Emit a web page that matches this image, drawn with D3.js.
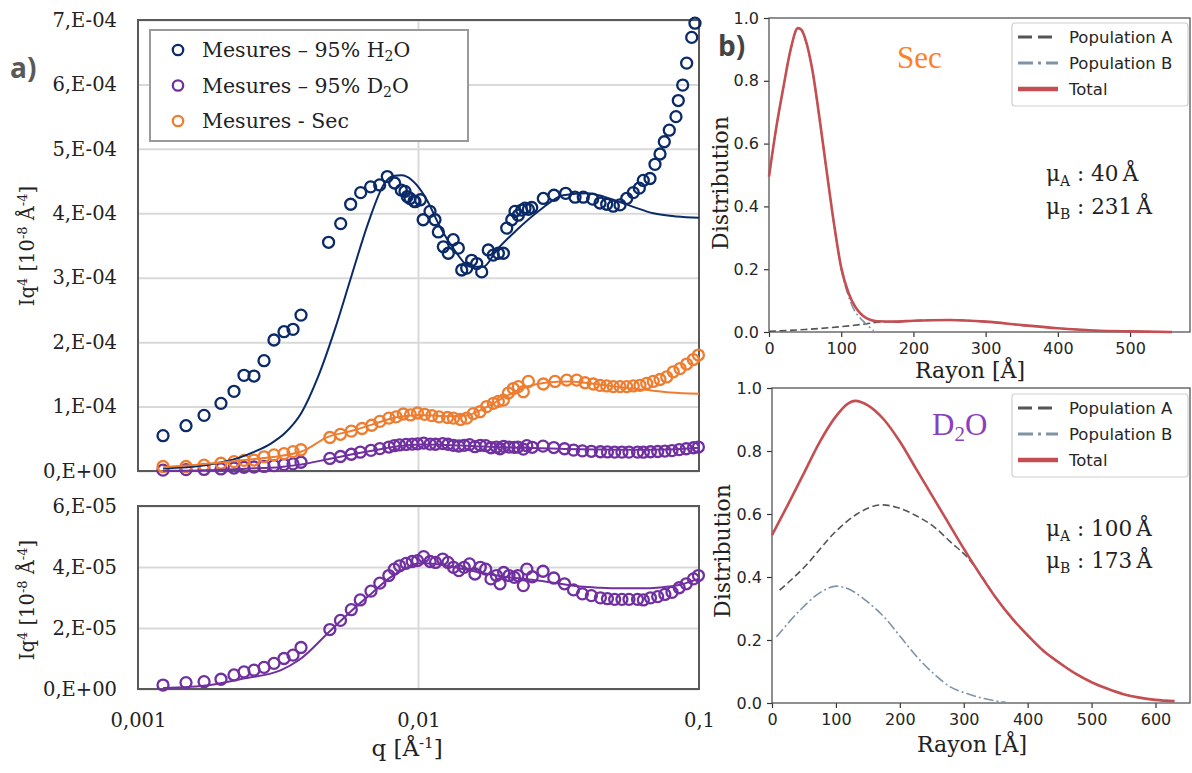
<!DOCTYPE html>
<html><head><meta charset="utf-8">
<script src="https://cdn.jsdelivr.net/npm/d3@7"></script>
<style>body{margin:0;background:#fff}svg{display:block}</style>
</head><body>
<svg id="c" width="1192" height="773"></svg>
<script>
// ---------------- Panel a data (q in Å^-1) ----------------
// H2O measurements (Iq4 in units of 1e-4)
const qH2O = [0.001228,0.001483,0.001720,0.001976,0.002199,0.002387,0.002591,0.002814,0.003053,0.003315,0.003570,0.003812,
 0.00478,0.00528,0.00573,0.00622,0.00675,0.00727,0.00774,0.00822,0.00868,0.00895,0.00912,0.00933,0.00964,0.00972,0.01016,
 0.01039,0.01099,0.01145,0.01177,0.01226,0.01277,0.01330,0.01387,0.01426,0.01485,0.01547,0.01613,0.01680,0.01773,0.01847,
 0.01926,0.02007,0.02063,0.02150,0.02208,0.02269,0.02333,0.02397,0.02464,0.02533,0.02786,0.03041,0.03347,0.03614,0.03868,
 0.04178,0.04437,0.04687,0.04948,0.05229,0.05523,0.05831,0.06126,0.06330,0.06688,0.06967,0.07261,0.07521,0.07836,0.08277,
 0.08437,0.08747,0.09037,0.09418,0.09675];
const iqH2O = [0.548,0.703,0.864,1.05,1.237,1.485,1.474,1.712,2.033,2.162,2.199,2.42,
 3.55,3.84,4.14,4.32,4.41,4.44,4.57,4.47,4.36,4.34,4.26,4.23,4.19,4.18,4.21,
 3.90,4.03,3.90,3.71,3.48,3.38,3.59,3.46,3.12,3.15,3.27,3.22,3.09,3.43,3.35,
 3.38,3.38,3.77,3.90,4.03,3.97,4.05,4.08,4.06,4.09,4.23,4.28,4.31,4.25,4.25,
 4.22,4.16,4.14,4.11,4.13,4.23,4.32,4.39,4.51,4.54,4.76,4.92,5.11,5.29,5.50,
 5.75,5.99,6.33,6.73,6.95];
const qFitH2O = [0.001228,0.001730,0.002273,0.002606,0.002986,0.003334,0.003822,0.004383,0.005027,0.005761,0.006607,0.007576,
 0.008110,0.00868,0.009078,0.009850,0.01070,0.01193,0.01368,0.01526,0.01702,0.01901,0.02240,0.02712,0.03283,0.03977,0.04948,
 0.05831,0.06871,0.08325,0.1];
const fitH2O = [0.04,0.09,0.2,0.3,0.43,0.585,0.9,1.46,2.19,3.02,3.84,4.47,4.58,4.59,4.57,4.44,4.21,3.79,3.38,3.17,3.17,3.43,
 3.74,4.05,4.28,4.31,4.21,4.10,4.0,3.95,3.93];

// Dry ("Sec") measurements (Iq4 in units of 1e-4)
const qSec = [0.001228,0.001483,0.001720,0.001976,0.002199,0.002387,0.002591,0.002814,0.003053,0.003315,0.003570,0.003812,
 0.00483,0.00527,0.00576,0.00629,0.00681,0.00728,0.00784,0.00832,0.00882,0.00936,0.00992,0.01052,0.01116,0.01183,0.01269,
 0.01332,0.01412,0.01485,0.01568,0.01657,0.01750,0.01847,0.01926,0.02007,0.02091,0.02178,0.02269,0.02364,0.02464,0.02786,
 0.03066,0.03376,0.03665,0.03922,0.04199,0.04437,0.04687,0.04948,0.05229,0.05523,0.05831,0.06161,0.06510,0.06871,0.07261,
 0.07671,0.08097,0.08556,0.09037,0.09542,0.0995];
const iqSec = [0.07,0.07,0.09,0.12,0.145,0.165,0.17,0.22,0.25,0.27,0.30,0.33,
 0.52,0.57,0.62,0.66,0.71,0.77,0.82,0.84,0.885,0.87,0.90,0.88,0.86,0.84,0.83,
 0.82,0.80,0.82,0.89,0.92,1.0,1.05,1.08,1.10,1.21,1.28,1.31,1.23,1.39,1.35,
 1.39,1.41,1.41,1.37,1.35,1.33,1.32,1.31,1.31,1.31,1.32,1.33,1.36,1.39,1.42,
 1.46,1.54,1.59,1.66,1.73,1.80];
const qFitSec = [0.001228,0.002273,0.003812,0.00476,0.005747,0.00683,0.00824,0.01012,0.01243,0.01465,0.01726,0.02034,0.02397,
 0.02825,0.03469,0.04257,0.05229,0.06418,0.07881,0.1];
const fitSec = [0.06,0.16,0.30,0.53,0.62,0.72,0.83,0.87,0.85,0.86,0.98,1.15,1.30,1.37,1.39,1.35,1.30,1.26,1.22,1.20];

// D2O measurements (Iq4 in units of 1e-5)
const qD2O = [0.001228,0.001483,0.001720,0.001976,0.002199,0.002387,0.002591,0.002814,0.003053,0.003315,0.003570,0.003812,
 0.00483,0.00527,0.00576,0.00620,0.00677,0.00728,0.00784,0.00820,0.00856,0.00903,0.00950,0.00992,0.01043,0.01100,0.01150,
 0.01220,0.01274,0.01332,0.01392,0.01455,0.01520,0.01589,0.01661,0.01736,0.01813,0.01896,0.01953,0.02012,0.02103,0.02196,
 0.02261,0.02364,0.02433,0.02545,0.02779,0.03036,0.03315,0.03570,0.03840,0.04134,0.04451,0.04716,0.05004,0.05311,0.05629,
 0.06037,0.06334,0.06715,0.07123,0.07557,0.08011,0.08500,0.09007,0.09556,0.0995];
const iqD2O = [0.13,0.21,0.24,0.32,0.46,0.56,0.62,0.71,0.84,1.0,1.11,1.36,
 1.95,2.25,2.60,2.92,3.21,3.47,3.72,3.93,4.04,4.12,4.18,4.21,4.34,4.18,4.15,
 4.26,4.15,3.99,3.88,3.99,4.10,3.77,3.99,3.93,3.61,3.72,3.45,3.82,3.72,3.66,
 3.72,3.39,3.93,3.68,3.86,3.64,3.45,3.25,3.12,3.06,2.99,2.96,2.94,2.94,2.94,
 2.94,2.92,2.99,3.03,3.10,3.17,3.32,3.45,3.61,3.72];
const qFitD2O = [0.001228,0.001806,0.002407,0.003235,0.003750,0.004837,0.005747,0.00683,0.007914,0.00895,0.01012,0.01193,
 0.01406,0.01657,0.01953,0.02301,0.02712,0.03195,0.03765,0.04437,0.05229,0.06161,0.07261,0.08556,0.1];
const fitD2O = [0.03,0.13,0.35,0.62,0.95,1.9,2.55,3.15,3.65,3.95,4.12,4.08,3.95,3.82,3.7,3.62,3.55,3.45,3.36,3.32,3.3,3.3,
 3.33,3.42,3.62];

const qTicks = [0.001,0.01,0.1];
const qTickLabels = ["0,001","0,01","0,1"];
const topTicks = [0,1e-4,2e-4,3e-4,4e-4,5e-4,6e-4,7e-4];
const topTickLabels = ["0,E+00","1,E-04","2,E-04","3,E-04","4,E-04","5,E-04","6,E-04","7,E-04"];
const botTicks = [0,2e-5,4e-5,6e-5];
const botTickLabels = ["0,E+00","2,E-05","4,E-05","6,E-05"];

// ---------------- Panel b data ----------------
const secR = [0,10,20,30,40,45,50,60,70,80,90,100,110,120,130,140,150,175,200,250,300,350,400,450,500,558];
const secTotal = [0.495,0.65,0.78,0.90,0.968,0.962,0.935,0.835,0.68,0.51,0.345,0.205,0.125,0.078,0.052,0.039,0.034,0.033,
 0.036,0.038,0.033,0.022,0.012,0.005,0.002,0.0];
const secRA = [0,50,100,135,155,175,200,250,300,350,400,450,500,558];
const secPopA = [0.002,0.008,0.017,0.026,0.032,0.033,0.036,0.038,0.033,0.022,0.012,0.005,0.002,0.0];
const secRB = [0,10,20,30,40,45,50,60,70,80,90,100,110,117,124,131,138,145];
const secPopB = [0.495,0.65,0.78,0.90,0.966,0.96,0.933,0.833,0.678,0.508,0.343,0.2,0.115,0.074,0.05,0.033,0.018,0.004];

const d2oR = [0,25,50,75,100,120,130,140,150,175,200,225,250,275,300,325,350,375,400,425,450,475,500,525,550,575,600,630];
const d2oTotal = [0.533,0.63,0.73,0.83,0.91,0.952,0.959,0.955,0.945,0.90,0.83,0.745,0.66,0.575,0.49,0.41,0.335,0.27,0.215,
 0.165,0.127,0.093,0.066,0.045,0.028,0.017,0.010,0.006];
const d2oRA = [12,50,100,133,172,200,225,253,280,305,330,350,375,400,425,450,475,500,525,550,575,600,630];
const d2oPopA = [0.358,0.43,0.545,0.60,0.629,0.618,0.595,0.56,0.51,0.464,0.397,0.335,0.27,0.215,0.165,0.127,0.093,0.066,0.045,
 0.028,0.017,0.010,0.006];
const d2oRB = [7,44,70,101,128,150,175,201,227,253,279,305,332,366];
const d2oPopB = [0.21,0.295,0.343,0.371,0.353,0.32,0.274,0.21,0.146,0.093,0.051,0.03,0.014,0.002];

const distTicks = [0,0.2,0.4,0.6,0.8,1.0];
const secRTicks = [0,100,200,300,400,500];
const d2oRTicks = [0,100,200,300,400,500,600];
const legendLabelsB = ["Population A","Population B","Total"];

// ---------------- Drawing ----------------
const svg = d3.select("#c");
const SERIF = "'DejaVu Serif', serif";
const SANS = "'DejaVu Sans', sans-serif";
const C_H2O = "#0b2a68", C_D2O = "#7030a0", C_SEC = "#ed7d31";
const GRID = "#d9d9d9", FRAME = "#595959";

const xA = d3.scaleLog().domain([0.001,0.1]).range([138,699]);
const yTop = d3.scaleLinear().domain([0,7e-4]).range([471,20]);
const yBot = d3.scaleLinear().domain([0,6e-5]).range([689,506]);

function styleTickText(g, font, size, color){
  g.selectAll("text").attr("font-family", font).attr("font-size", size).attr("fill", color);
}

function panelA(yScale, ticks, labels, top, bottom){
  const g = svg.append("g").attr("transform","translate(138,0)")
    .call(d3.axisLeft(yScale).tickValues(ticks).tickFormat((d,i)=>labels[i]).tickSize(-(699-138)).tickPadding(21));
  g.select(".domain").remove();
  g.selectAll("line").attr("stroke", GRID).attr("stroke-width", 2);
  styleTickText(g, SERIF, 19.5, "#222");
  svg.append("line").attr("x1", xA(0.01)).attr("x2", xA(0.01)).attr("y1", top).attr("y2", bottom)
    .attr("stroke", GRID).attr("stroke-width", 2);
  svg.append("rect").attr("x",138).attr("y",top).attr("width",699-138).attr("height",bottom-top)
    .attr("fill","none").attr("stroke",FRAME).attr("stroke-width",2);
}
panelA(yTop, topTicks, topTickLabels, 20, 471);
panelA(yBot, botTicks, botTickLabels, 506, 689);

const gx = svg.append("g").attr("transform","translate(0,689)")
  .call(d3.axisBottom(xA).tickValues(qTicks).tickFormat((d,i)=>qTickLabels[i]).tickSize(0).tickPadding(24));
gx.select(".domain").remove();
styleTickText(gx, SERIF, 19.5, "#222");

function drawLine(qs, vs, unit, yScale, color, w){
  const data = qs.map((q,i)=>({q, v: vs[i]*unit}));
  svg.append("path").datum(data)
    .attr("d", d3.line().x(d=>xA(d.q)).y(d=>yScale(d.v)).curve(d3.curveMonotoneX))
    .attr("fill","none").attr("stroke",color).attr("stroke-width",w);
}
function drawPts(qs, vs, unit, yScale, color){
  svg.append("g").selectAll("circle").data(qs.map((q,i)=>({q, v: vs[i]*unit}))).join("circle")
    .attr("cx", d=>xA(d.q)).attr("cy", d=>yScale(d.v)).attr("r", 5.5)
    .attr("fill","none").attr("stroke",color).attr("stroke-width",2.3);
}
drawPts(qH2O, iqH2O, 1e-4, yTop, C_H2O);
drawPts(qD2O, iqD2O, 1e-5, yTop, C_D2O);
drawPts(qSec, iqSec, 1e-4, yTop, C_SEC);
drawLine(qFitH2O, fitH2O, 1e-4, yTop, C_H2O, 2);
drawLine(qFitD2O, fitD2O, 1e-5, yTop, C_D2O, 2);
drawLine(qFitSec, fitSec, 1e-4, yTop, C_SEC, 2);
drawPts(qD2O, iqD2O, 1e-5, yBot, C_D2O);
drawLine(qFitD2O, fitD2O, 1e-5, yBot, C_D2O, 2);

function iqTitle(cx, cy){
  const t = svg.append("text").attr("transform",`translate(${cx},${cy}) rotate(-90)`)
    .attr("text-anchor","middle").attr("font-family",SERIF).attr("font-size",19.5).attr("fill","#222");
  t.append("tspan").text("Iq");
  t.append("tspan").attr("dy",-7).attr("font-size",13).text("4");
  t.append("tspan").attr("dy",7).text(" [10");
  t.append("tspan").attr("dy",-7).attr("font-size",13).text("-8");
  t.append("tspan").attr("dy",7).text(" Å");
  t.append("tspan").attr("dy",-7).attr("font-size",13).text("-4");
  t.append("tspan").attr("dy",7).text("]");
}
iqTitle(34, 246);
iqTitle(34, 600);
{
  const t = svg.append("text").attr("x",407).attr("y",756).attr("text-anchor","middle")
    .attr("font-family",SERIF).attr("font-size",23).attr("fill","#222");
  t.append("tspan").text("q [Å");
  t.append("tspan").attr("dy",-8).attr("font-size",15).text("-1");
  t.append("tspan").attr("dy",8).text("]");
}

svg.append("rect").attr("x",150).attr("y",30).attr("width",318).attr("height",111)
  .attr("fill","#fff").attr("stroke","#999").attr("stroke-width",2);
const legA = [
  {c:C_H2O, parts:[["Mesures – 95% H",0],["2",1],["O",0]]},
  {c:C_D2O, parts:[["Mesures – 95% D",0],["2",1],["O",0]]},
  {c:C_SEC, parts:[["Mesures - Sec",0]]}
];
legA.forEach((e,i)=>{
  const y = 50 + i*35.5;
  svg.append("circle").attr("cx",178).attr("cy",y).attr("r",5.2).attr("fill","none")
    .attr("stroke",e.c).attr("stroke-width",2.3);
  const t = svg.append("text").attr("x",202).attr("y",y+7).attr("font-family",SERIF)
    .attr("font-size",20.5).attr("fill","#222");
  let prevSub = 0;
  e.parts.forEach(([s,sub])=>{
    const ts = t.append("tspan").text(s);
    if (sub) ts.attr("dy",4).attr("font-size",14);
    else if (prevSub) ts.attr("dy",-4);
    prevSub = sub;
  });
});

svg.append("text").attr("x",10).attr("y",78).attr("font-family","'Open Sans', sans-serif")
  .attr("font-weight",700).attr("font-size",28).attr("fill","#595959").text("a)");

// ---------------- Panel b ----------------
function panelB(opt){
  const x = d3.scaleLinear().domain([0,opt.xmax]).range([opt.x0,opt.x1]);
  const y = d3.scaleLinear().domain([0,1]).range([opt.y1,opt.y0]);
  const gy = svg.append("g").attr("transform",`translate(${opt.x0},0)`)
    .call(d3.axisLeft(y).tickValues(distTicks).tickFormat(d3.format(".1f")).tickSize(5).tickPadding(5));
  gy.select(".domain").remove();
  gy.selectAll("line").attr("stroke","#333").attr("stroke-width",1.2);
  styleTickText(gy, SANS, 16, "#262626");
  const gxb = svg.append("g").attr("transform",`translate(0,${opt.y1})`)
    .call(d3.axisBottom(x).tickValues(opt.xticks).tickFormat(d3.format("d")).tickSize(5).tickPadding(6));
  gxb.select(".domain").remove();
  gxb.selectAll("line").attr("stroke","#333").attr("stroke-width",1.2);
  styleTickText(gxb, SANS, 16, "#262626");
  svg.append("rect").attr("x",opt.x0).attr("y",opt.y0).attr("width",opt.x1-opt.x0).attr("height",opt.y1-opt.y0)
    .attr("fill","none").attr("stroke","#555").attr("stroke-width",1.3);
  const ln = d3.line().x(d=>x(d[0])).y(d=>y(d[1])).curve(d3.curveMonotoneX);
  const A = opt.rA.map((r,i)=>[r,opt.popA[i]]);
  const B = opt.rB.map((r,i)=>[r,opt.popB[i]]);
  const T = opt.rT.map((r,i)=>[r,opt.total[i]]);
  svg.append("path").datum(A).attr("d",ln).attr("fill","none").attr("stroke","#555")
    .attr("stroke-width",1.6).attr("stroke-dasharray","7,3.5");
  svg.append("path").datum(B).attr("d",ln).attr("fill","none").attr("stroke","#7f93a8")
    .attr("stroke-width",1.6).attr("stroke-dasharray","10,3,2,3");
  svg.append("path").datum(T).attr("d",ln).attr("fill","none").attr("stroke","#c44e52")
    .attr("stroke-width",2.6);
  svg.append("rect").attr("x",1012).attr("y",opt.legY).attr("width",176).attr("height",83).attr("rx",3)
    .attr("fill","#fff").attr("fill-opacity",0.85).attr("stroke","#d0d0d0").attr("stroke-width",1.2);
  const styles = [
    {c:"#555", w:3, dash:"14,6"},
    {c:"#7f93a8", w:3, dash:"15,5,3,5"},
    {c:"#c44e52", w:4.5, dash:null}
  ];
  legendLabelsB.forEach((lab,i)=>{
    const yy = opt.legY + 14 + i*26;
    const l = svg.append("line").attr("x1",1018).attr("x2",1058).attr("y1",yy).attr("y2",yy)
      .attr("stroke",styles[i].c).attr("stroke-width",styles[i].w);
    if (styles[i].dash) l.attr("stroke-dasharray",styles[i].dash);
    svg.append("text").attr("x",1069).attr("y",yy).attr("dy","0.36em").attr("font-family",SANS)
      .attr("font-size",16.5).attr("fill","#262626").text(lab);
  });
  svg.append("text").attr("transform",`translate(${opt.ylabX},${opt.ylabY}) rotate(-90)`)
    .attr("text-anchor","middle").attr("font-family",SERIF).attr("font-size",22).attr("fill","#222")
    .text("Distribution");
  svg.append("text").attr("x",opt.xlabX).attr("y",opt.xlabY).attr("text-anchor","middle")
    .attr("font-family",SERIF).attr("font-size",22).attr("fill","#222").text("Rayon [Å]");
  opt.mu.forEach((m,i)=>{
    const t = svg.append("text").attr("x",1046).attr("y",opt.muY[i]).attr("font-family",SERIF)
      .attr("font-size",21.5).attr("fill","#222");
    t.append("tspan").text("μ");
    t.append("tspan").attr("dy",5).attr("font-size",14).text(m[0]);
    t.append("tspan").attr("dy",-5).text(" : " + m[1] + "\u2009Å");
  });
}

panelB({x0:769, x1:1190, y0:18, y1:332, xmax:583, xticks:secRTicks,
  rT:secR, total:secTotal, rA:secRA, popA:secPopA, rB:secRB, popB:secPopB,
  legY:23, ylabX:728, ylabY:183, xlabX:970, xlabY:378,
  mu:[["A","40"],["B","231"]], muY:[181,214]});
panelB({x0:772, x1:1190, y0:388, y1:703, xmax:654, xticks:d2oRTicks,
  rT:d2oR, total:d2oTotal, rA:d2oRA, popA:d2oPopA, rB:d2oRB, popB:d2oPopB,
  legY:394, ylabX:730, ylabY:551, xlabX:972, xlabY:752,
  mu:[["A","100"],["B","173"]], muY:[536,568]});

svg.append("text").attr("x",897).attr("y",68).attr("font-family","'Liberation Serif', serif")
  .attr("font-size",31).attr("fill","#ff7f27").text("Sec");
{
  const t = svg.append("text").attr("x",932).attr("y",435).attr("font-family","'Liberation Serif', serif")
    .attr("font-size",31).attr("fill","#8a3fbf");
  t.append("tspan").text("D");
  t.append("tspan").attr("dy",6).attr("font-size",21).text("2");
  t.append("tspan").attr("dy",-6).text("O");
}
svg.append("text").attr("x",718).attr("y",56).attr("font-family","'Open Sans', sans-serif")
  .attr("font-weight",700).attr("font-size",28).attr("fill","#444").text("b)");
</script>
</body></html>
